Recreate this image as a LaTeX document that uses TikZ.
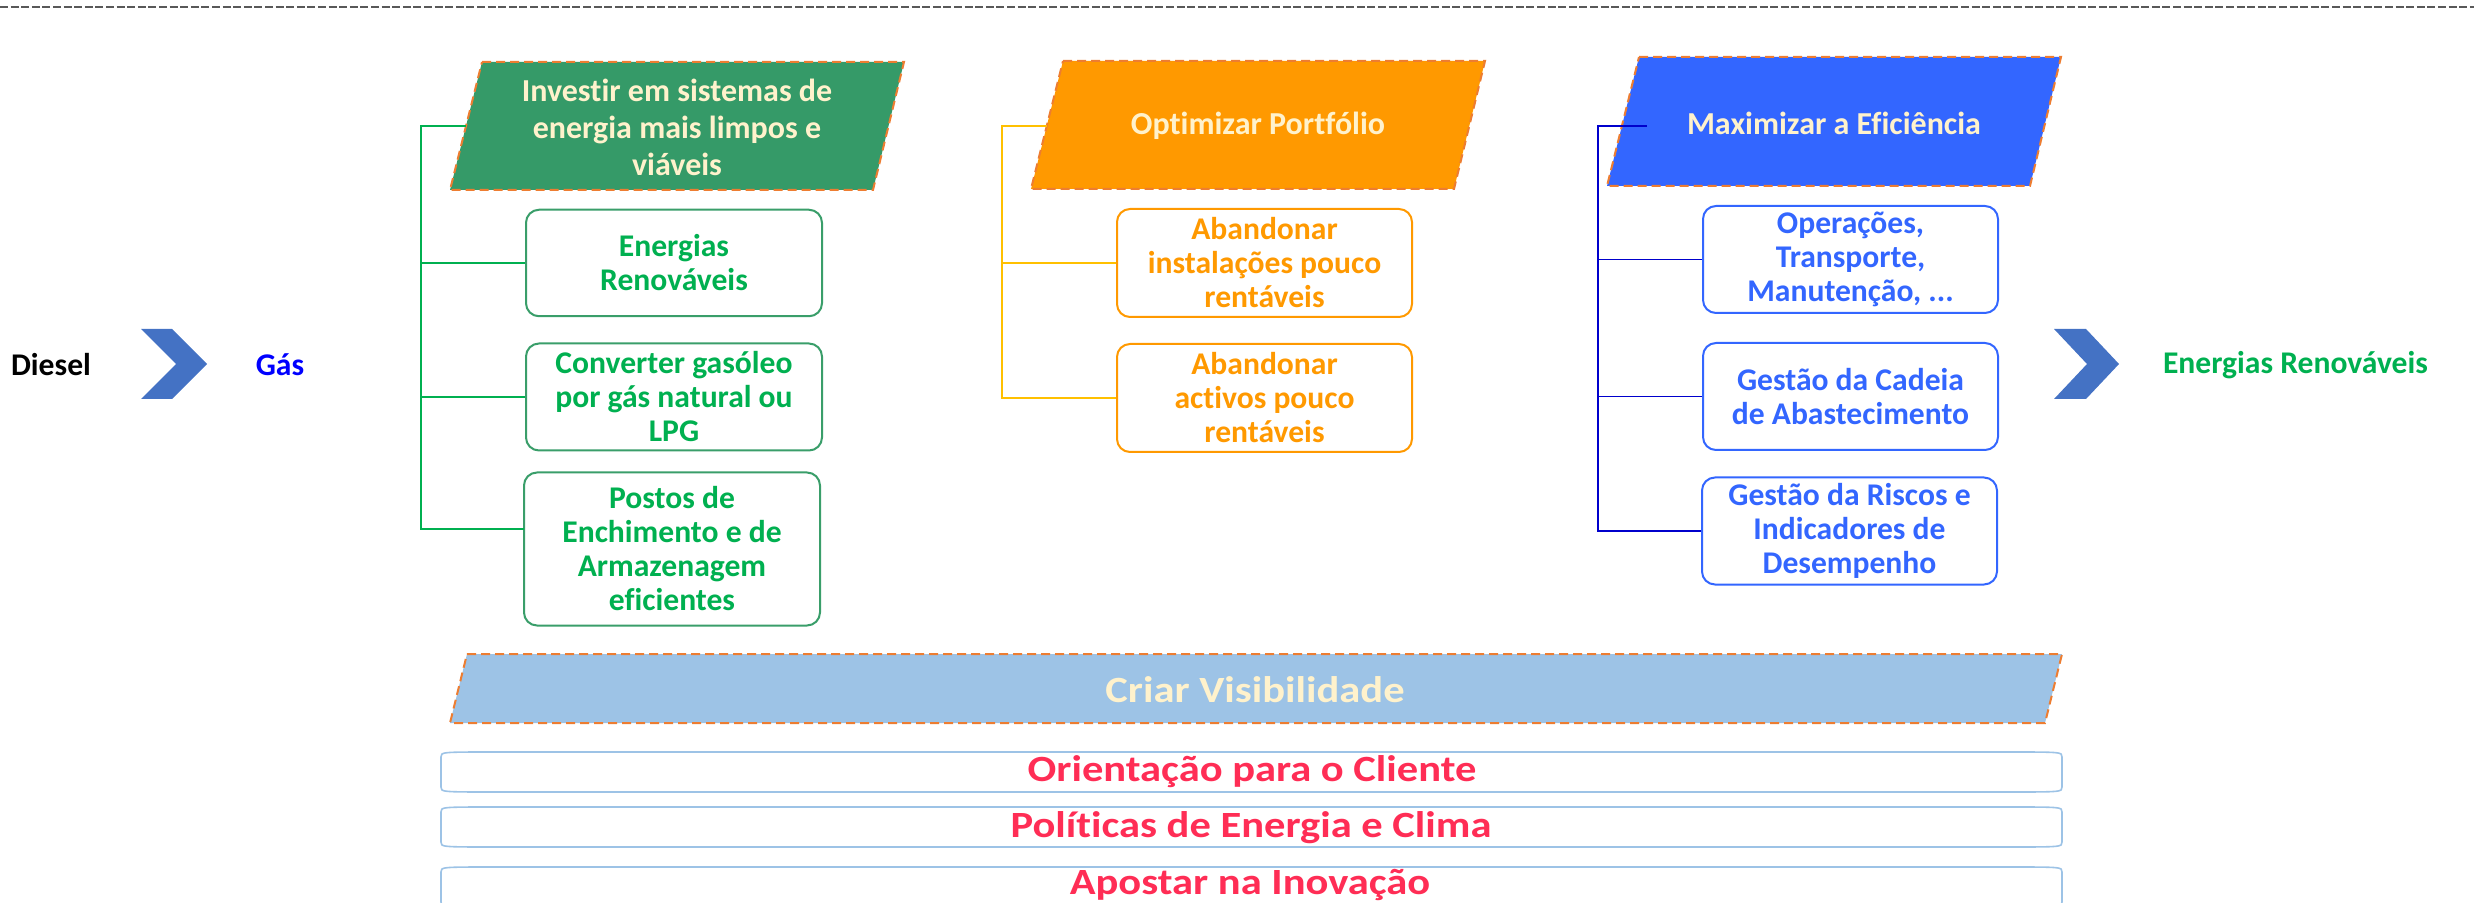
\documentclass[tikz,border=0pt]{standalone}
\usepackage{fontspec}
\setmainfont{Carlito}[Ligatures=NoCommon]
\newfontfamily\widefont{Carlito}[FakeStretch=1.15, Ligatures=NoCommon]
\definecolor{cream}{HTML}{FFF2CC}
\definecolor{ghfill}{HTML}{359A68}
\definecolor{ohfill}{HTML}{FF9900}
\definecolor{bhfill}{HTML}{3366FF}
\definecolor{dorange}{HTML}{ED7D31}
\definecolor{gborder}{HTML}{3A9E6A}
\definecolor{gtext}{HTML}{00B050}
\definecolor{otext}{HTML}{FF9900}
\definecolor{otreec}{HTML}{FFC000}
\definecolor{btext}{HTML}{3366FF}
\definecolor{btreec}{HTML}{0000CC}
\definecolor{chevc}{HTML}{4472C4}
\definecolor{gasc}{HTML}{0000FF}
\definecolor{criarc}{HTML}{9DC3E6}
\definecolor{barc}{HTML}{9DC3E6}
\definecolor{redt}{HTML}{FF2D55}
\definecolor{topgray}{HTML}{595959}
\newcommand\mybar[2]{\draw[barline] (441,#1+5) -- (441,#2-5) .. controls (441,#2) .. (496,#2) -- (2007,#2) .. controls (2062,#2) .. (2062,#2-5) -- (2062,#1+5) .. controls (2062,#1) .. (2007,#1) -- (496,#1) .. controls (441,#1) .. cycle;}
\begin{document}
\begin{tikzpicture}[x=0.5pt,y=-0.5pt,
  hdrshape/.style={draw=dorange, line width=1pt, dash pattern=on 4.5pt off 2.5pt},
  hdr/.style={text=cream, font=\bfseries\fontsize{16}{18.5}\selectfont, align=center, inner sep=0pt},
  boxbase/.style={line width=1pt, rounded corners=6.5pt, align=center, inner sep=0pt, fill=white, font=\bfseries\fontsize{15.8}{17}\selectfont},
  gbox/.style={boxbase, draw=gborder, text=gtext, minimum width=148pt},
  obox/.style={boxbase, draw=otext, text=otext, minimum width=147.5pt, minimum height=54pt},
  bbox/.style={boxbase, draw=btext, text=btext, minimum width=147.5pt, minimum height=53.5pt},
  gtree/.style={draw=gtext, line width=0.7pt},
  otree/.style={draw=otreec, line width=0.7pt},
  btree/.style={draw=btreec, line width=0.7pt},
  sidetxt/.style={font=\bfseries\fontsize{15.8}{18}\selectfont, inner sep=0pt},
  bigtxt/.style={font=\widefont\bfseries\fontsize{18.5}{22}\selectfont, inner sep=0pt},
  barline/.style={draw=barc, line width=0.8pt, fill=white},
  chev/.style={fill=chevc}
]
\useasboundingbox (0,0) rectangle (2474,903);
% top dashed line
\draw[topgray, line width=1pt, dash pattern=on 4pt off 1.3pt] (0,7) -- (2474,7);

% ---------- green group ----------
\path[hdrshape, fill=ghfill] (482,62) -- (904,62) -- (873,190) -- (450,190) -- cycle;
\coordinate (ghl) at (466,126);
\coordinate (gt) at (421,126);
\node[gbox, minimum height=53.25pt] (g1) at (674,263) {Energias\\Renováveis};
\node[gbox, minimum height=53.5pt] (g2) at (674,397) {Converter gasóleo\\por gás natural ou\\LPG};
\node[gbox, minimum height=76.5pt] (g3) at (672,549) {Postos de\\Enchimento e de\\Armazenagem\\eficientes};
\coordinate (g3b) at (524,529);
\draw[gtree] (ghl) -- (gt) |- (g3b);
\draw[gtree] (gt |- g1.west) -- (g1.west);
\draw[gtree] (gt |- g2.west) -- (g2.west);
\node[hdr] (gh) at (677,127) {Investir em sistemas de\\energia mais limpos e\\viáveis};

% ---------- orange group ----------
\path[hdrshape, fill=ohfill] (1063,61) -- (1485,61) -- (1454,189) -- (1031,189) -- cycle;
\coordinate (ohl) at (1047,126);
\coordinate (ot) at (1002,126);
\node[obox] (o1) at (1264.5,263) {Abandonar\\instalações pouco\\rentáveis};
\node[obox] (o2) at (1264.5,398) {Abandonar\\activos pouco\\rentáveis};
\draw[otree] (ohl) -- (ot) |- (o2.west);
\draw[otree] (ot |- o1.west) -- (o1.west);
\node[hdr] (oh) at (1258,126) {Optimizar Portfólio};

% ---------- blue group ----------
\path[hdrshape, fill=bhfill] (1639,57) -- (2061,57) -- (2030,186) -- (1607,186) -- cycle;
\coordinate (bhl) at (1647,126);
\coordinate (bt) at (1598,126);
\node[bbox] (b1) at (1850.5,259.5) {Operações,\\Transporte,\\Manutenção, ...};
\node[bbox] (b2) at (1850.5,396.5) {Gestão da Cadeia\\de Abastecimento};
\node[bbox] (b3) at (1849.5,531) {Gestão da Riscos e\\Indicadores de\\Desempenho};
\draw[btree] (bhl) -- (bt) |- (b3.west);
\draw[btree] (bt |- b1.west) -- (b1.west);
\draw[btree] (bt |- b2.west) -- (b2.west);
\node[hdr] (bh) at (1834,123) {Maximizar a Eficiência};

% ---------- side flow ----------
\fill[chev] (141,329) -- (172,329) -- (207,364) -- (172,399) -- (141,399) -- (176,364) -- cycle;
\fill[chev] (2054,329) -- (2086,329) -- (2119,364) -- (2086,399) -- (2054,399) -- (2087,364) -- cycle;
\node[sidetxt, text=black] (diesel) at (51,365) {Diesel};
\node[sidetxt, text=gasc] (gas) at (280,365) {Gás};
\node[sidetxt, text=gtext] (er) at (2295.5,365) {Energias Renováveis};

% ---------- bottom ----------
\path[hdrshape, fill=criarc] (467,654) -- (2062,654) -- (2045,723) -- (450,723) -- cycle;
\node[bigtxt, text=cream] (cv) at (1255,690) {Criar Visibilidade};
\mybar{752}{792}
\mybar{807}{847}
\mybar{867}{907}
\node[bigtxt, text=redt] (t1) at (1252,772) {Orientação para o Cliente};
\node[bigtxt, text=redt] (t2) at (1251,828) {Políticas de Energia e Clima};
\node[bigtxt, text=redt] (t3) at (1250,885) {Apostar na Inovação};
\end{tikzpicture}
\end{document}
